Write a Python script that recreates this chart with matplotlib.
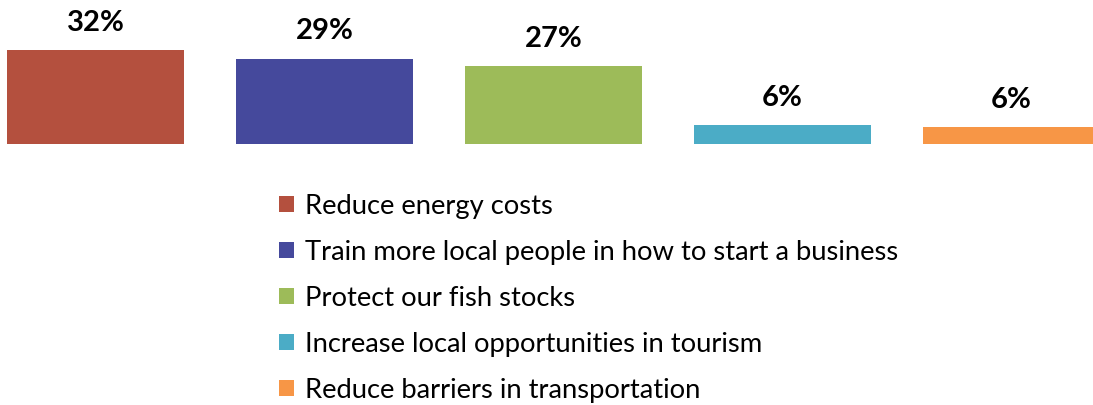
import matplotlib.pyplot as plt
from matplotlib.patches import Patch

# Survey answers, share of respondents (%)
categories = [
    "Reduce energy costs",
    "Train more local people in how to start a business",
    "Protect our fish stocks",
    "Increase local opportunities in tourism",
    "Reduce barriers in transportation",
]
values = [32.0, 29.0, 26.6, 6.4, 5.8]
colors = ["#B4503E", "#45499C", "#9DBB59", "#4BACC6", "#F79646"]

plt.rcParams["font.family"] = ["Lato", "DejaVu Sans"]

fig = plt.figure(figsize=(10.93, 4.05), dpi=100)
ax = fig.add_axes([0, 0.644, 1, 0.356])

x = range(len(categories))
bars = ax.bar(x, values, width=0.773, color=colors)

for b, v in zip(bars, values):
    ax.text(b.get_x() + b.get_width() / 2, v + 9.3, "%d%%" % round(v),
            ha="center", va="center", fontsize=21, fontweight="bold")

ax.set_xlim(-0.417, 4.356)
ax.set_ylim(0, 49)
ax.axis("off")

handles = [Patch(facecolor=c) for c in colors]
fig.legend(handles, categories, loc="upper left", bbox_to_anchor=(0.255, 0.522),
           frameon=False, fontsize=19.7, handlelength=0.55, handleheight=0.55,
           handletextpad=0.42, labelspacing=0.77, borderpad=0, borderaxespad=0)

fig.savefig("out.png", dpi=100)
